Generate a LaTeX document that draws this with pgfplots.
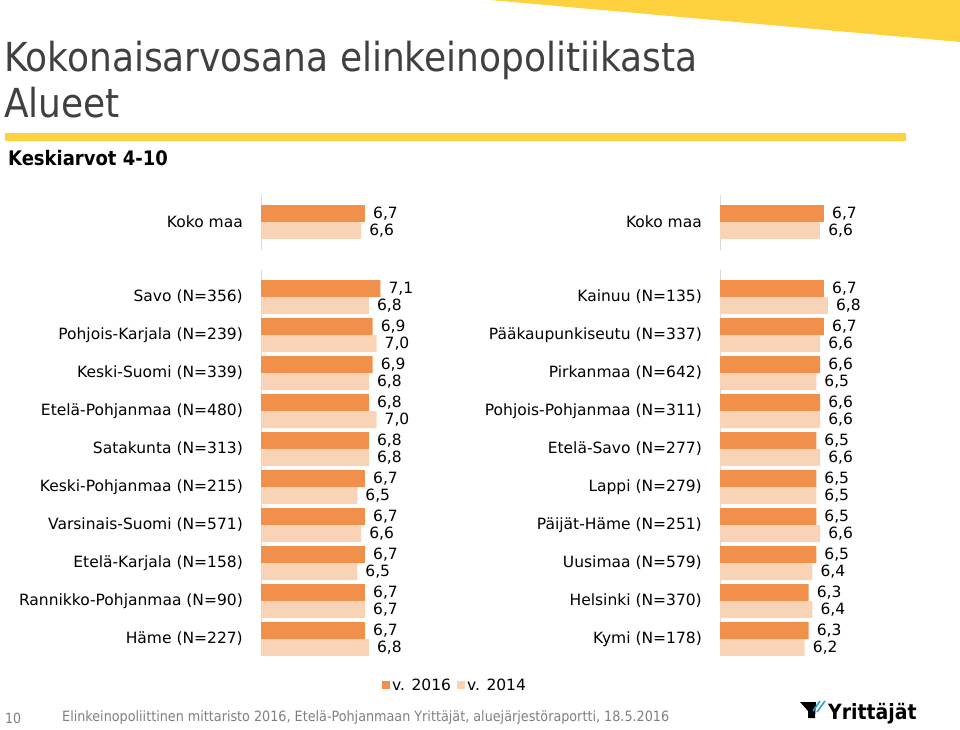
\documentclass[border=0pt]{standalone}
\usepackage{fontspec}
\setmainfont{DejaVu Sans Condensed}
\newfontfamily\labelfont{DejaVu Sans}
\usepackage{pgfplots}
\pgfplotsset{compat=1.18}
\definecolor{dark}{HTML}{F0904B}
\definecolor{light}{HTML}{F9D3B6}
\definecolor{ygold}{HTML}{FDD23E}
\definecolor{titlegray}{HTML}{404040}
\definecolor{axgray}{HTML}{D9D9D9}
\definecolor{footgray}{HTML}{7F7F7F}
\definecolor{logoblue}{HTML}{2A9FD8}
\pgfplotsset{
 barpanel/.style={
  scale only axis, width=231pt, xmin=4, xmax=10,
  xbar, bar width=17pt,
  axis x line=none, axis y line=left,
  axis line style={-, draw=axgray, line width=0.8pt},
  major tick length=0pt,
  yticklabel style={font=\labelfont\fontsize{15.5}{17}\selectfont, inner sep=0pt, xshift=-18pt, text=black},
  point meta=x,
  nodes near coords={\pgfmathprintnumber[fixed,fixed zerofill,precision=1,use comma,assume math mode=true]{\pgfplotspointmeta}},
  nodes near coords style={font=\labelfont\fontsize{15.5}{17}\selectfont, anchor=west, inner sep=0pt, xshift=8pt, text=black},
 },
 d16/.style={fill=dark, draw=none, bar shift=8.5pt},
 d14/.style={fill=light, draw=none, bar shift=-8.5pt},
}
\begin{document}
\begin{tikzpicture}[x=1pt,y=1pt]
\useasboundingbox (0,0) rectangle (960,-730);
% decorations
\fill[ygold] (490,0) -- (960,0) -- (960,-42) -- cycle;
\node[anchor=base west, inner sep=0pt, font=\fontsize{40}{46}\selectfont, text=titlegray] at (4,-72) {Kokonaisarvosana elinkeinopolitiikasta};
\node[anchor=base west, inner sep=0pt, font=\fontsize{40}{46}\selectfont, text=titlegray] at (4,-118) {Alueet};
\fill[ygold] (5,-133) rectangle (906,-141);
\node[anchor=base west, inner sep=0pt, font=\bfseries\fontsize{20}{24}\selectfont] at (8,-166) {Keskiarvot 4-10};

% Koko maa left
\begin{axis}[barpanel, at={(261pt,-250pt)}, anchor=south west, height=55pt,
  ymin=-0.737, ymax=0.71, ytick={0}, yticklabels={Koko maa}]
\addplot[d16] coordinates {(6.7,0)};
\addplot[d14] coordinates {(6.6,0)};
\end{axis}
% Koko maa right
\begin{axis}[barpanel, at={(720pt,-250pt)}, anchor=south west, height=55pt,
  ymin=-0.737, ymax=0.71, ytick={0}, yticklabels={Koko maa}]
\addplot[d16] coordinates {(6.7,0)};
\addplot[d14] coordinates {(6.6,0)};
\end{axis}

% Main left
\begin{axis}[barpanel, at={(261pt,-655pt)}, anchor=south west, height=384.9pt,
  ymin=-0.42, ymax=9.71, ytick={0,...,9},
  yticklabels={Häme (N=227), Rannikko-Pohjanmaa (N=90), Etelä-Karjala (N=158), Varsinais-Suomi (N=571), Keski-Pohjanmaa (N=215), Satakunta (N=313), Etelä-Pohjanmaa (N=480), Keski-Suomi (N=339), Pohjois-Karjala (N=239), Savo (N=356)},
  legend style={at={(0.84,-0.078)}, anchor=center, draw=none, fill=none, legend columns=2,
    font=\labelfont\fontsize{15.5}{17}\selectfont, inner sep=0pt,
    /tikz/every even column/.append style={column sep=4pt}},
  legend image code/.code={\fill[#1] (0pt,-4pt) rectangle (8pt,4pt);},
  ]
\addplot[d16] coordinates {(6.7,0) (6.7,1) (6.7,2) (6.7,3) (6.7,4) (6.8,5) (6.8,6) (6.9,7) (6.9,8) (7.1,9)};
\addplot[d14] coordinates {(6.8,0) (6.7,1) (6.5,2) (6.6,3) (6.5,4) (6.8,5) (7.0,6) (6.8,7) (7.0,8) (6.8,9)};
\legend{v. 2016, v. 2014}
\end{axis}

% Main right
\begin{axis}[barpanel, at={(720pt,-655pt)}, anchor=south west, height=384.9pt,
  ymin=-0.42, ymax=9.71, ytick={0,...,9},
  yticklabels={Kymi (N=178), Helsinki (N=370), Uusimaa (N=579), Päijät-Häme (N=251), Lappi (N=279), Etelä-Savo (N=277), Pohjois-Pohjanmaa (N=311), Pirkanmaa (N=642), Pääkaupunkiseutu (N=337), Kainuu (N=135)}]
\addplot[d16] coordinates {(6.3,0) (6.3,1) (6.5,2) (6.5,3) (6.5,4) (6.5,5) (6.6,6) (6.6,7) (6.7,8) (6.7,9)};
\addplot[d14] coordinates {(6.2,0) (6.4,1) (6.4,2) (6.6,3) (6.5,4) (6.6,5) (6.6,6) (6.5,7) (6.6,8) (6.8,9)};
\end{axis}

% footer
\node[anchor=west, inner sep=0pt, font=\fontsize{14}{16}\selectfont, text=footgray] at (5,-718) {10};
\node[anchor=west, inner sep=0pt, font=\fontsize{14.2}{16}\selectfont, text=footgray] at (62,-718) {Elinkeinopoliittinen mittaristo 2016, Etelä-Pohjanmaan Yrittäjät, aluejärjestöraportti, 18.5.2016};
% logo
\fill[black] (800,-702) -- (816,-702) -- (815,-718) -- (808,-718) -- (808,-711) -- cycle;
\draw[logoblue, line width=1.6pt] (813,-711) -- (820,-701);
\draw[logoblue, line width=1.6pt] (817,-712) -- (825,-701);
\node[anchor=west, inner sep=0pt, font=\bfseries\fontsize{21}{24}\selectfont] at (828,-714) {Yrittäjät};
\end{tikzpicture}
\end{document}
